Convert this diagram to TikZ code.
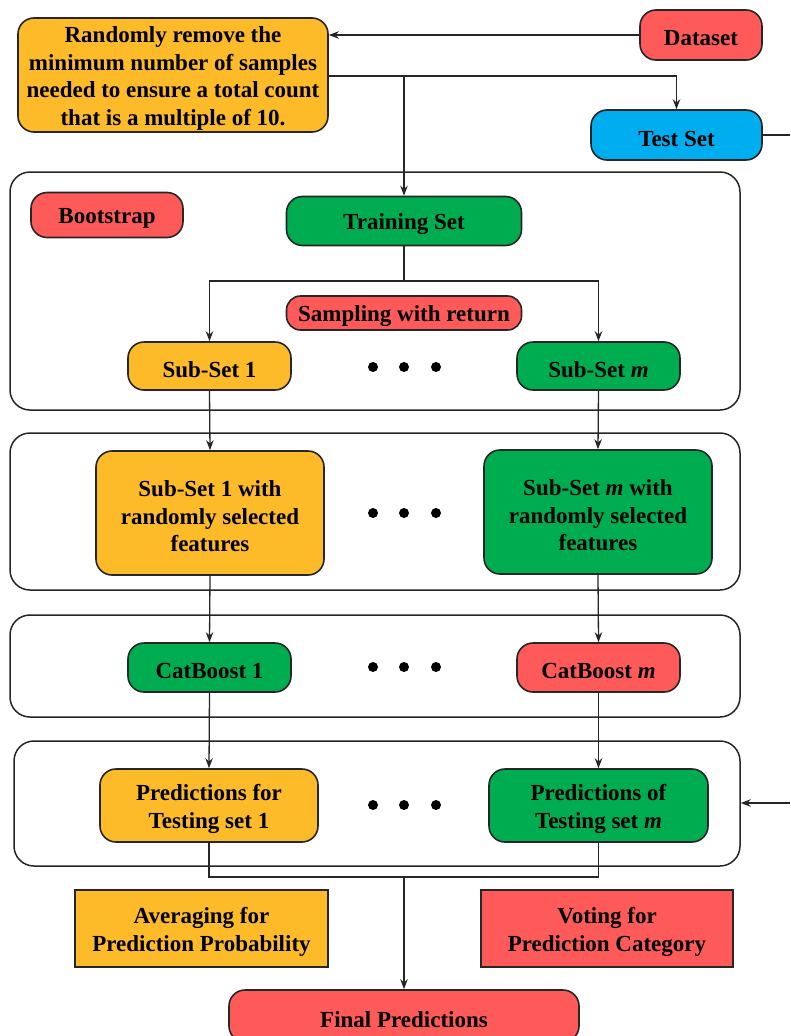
\documentclass[tikz,border=0pt]{standalone}
\usepackage{fontspec}
\setmainfont{Liberation Serif}
\usetikzlibrary{arrows.meta}
\definecolor{corange}{HTML}{FDBB2A}
\definecolor{cred}{HTML}{FF5A5A}
\definecolor{cgreen}{HTML}{00AC50}
\definecolor{cblue}{HTML}{00AEEF}
\tikzset{
  txt/.style={font=\bfseries\fontsize{23}{27.5}\selectfont, align=center, inner sep=0pt},
  lbl/.style={label={[txt, yshift=-3.5pt]center:{#1}}},
  rbox/.style={draw=black!85, line width=1.6pt, rounded corners=16pt, inner sep=0pt, minimum width=#1},
  sbox/.style={draw=black!85, line width=1.6pt, inner sep=0pt, minimum width=#1},
  outer/.style={draw=black!85, line width=1.5pt, rounded corners=20pt, inner sep=0pt},
  conn/.style={line width=1.3pt, draw=black!85},
  arr/.style={conn, -{Stealth[length=10pt,width=7.5pt]}},
  dot/.style={circle, fill=black, inner sep=0pt, minimum size=10pt}
}
\begin{document}
\begin{tikzpicture}[x=1pt,y=-1pt]
\useasboundingbox (0,0) rectangle (790,1036);
\clip (0,0) rectangle (790,1036);
% outer containers
\node[outer, minimum width=730pt, minimum height=238pt] (box1) at (375,291) {};
\node[outer, minimum width=730pt, minimum height=157pt] (box2) at (375,511.5) {};
\node[outer, minimum width=730pt, minimum height=102pt] (box3) at (375,666) {};
\node[outer, minimum width=726pt, minimum height=125pt] (box4) at (377,803.5) {};
% top
\node[rbox=310pt, minimum height=114pt, fill=corange, lbl={Randomly remove the\\minimum number of samples\\needed to ensure a total count\\that is a multiple of 10.}] (top) at (173,75) {};
\node[rbox=122pt, minimum height=50pt, fill=cred, lbl={Dataset}] (dataset) at (701,35) {};
\node[rbox=171pt, minimum height=50pt, fill=cblue, lbl={Test Set}] (test) at (676.5,135) {};
% bootstrap
\node[rbox=152pt, minimum height=45pt, fill=cred, lbl={Bootstrap}] (boot) at (107,215) {};
\node[rbox=235pt, minimum height=49pt, fill=cgreen, lbl={Training Set}] (train) at (404,221) {};
\node[rbox=235pt, minimum height=34pt, fill=cred, rounded corners=14pt, lbl={Sampling with return}] (samp) at (404,313) {};
\node[rbox=163pt, minimum height=48pt, fill=corange, lbl={Sub-Set 1}] (sub1) at (209.5,366) {};
\node[rbox=163pt, minimum height=48pt, fill=cgreen, lbl={Sub-Set \textit{m}}] (subm) at (598.5,366) {};
\node[dot] (d1a) at (373,367) {};
\node[dot] (d1b) at (404,367) {};
\node[dot] (d1c) at (436,367) {};
% features
\node[rbox=228pt, minimum height=124pt, fill=corange, lbl={Sub-Set 1 with\\randomly selected\\features}] (f1) at (210,513) {};
\node[rbox=228pt, minimum height=124pt, fill=cgreen, lbl={Sub-Set \textit{m} with\\randomly selected\\features}] (fm) at (598,512) {};
\node[dot] (d2a) at (373,513) {};
\node[dot] (d2b) at (404,513) {};
\node[dot] (d2c) at (436,513) {};
% catboost
\node[rbox=163pt, minimum height=49pt, fill=cgreen, lbl={CatBoost 1}] (c1) at (209.5,667.5) {};
\node[rbox=163pt, minimum height=49pt, fill=cred, lbl={CatBoost \textit{m}}] (cm) at (598.5,667.5) {};
\node[dot] (d3a) at (373,667) {};
\node[dot] (d3b) at (404,667) {};
\node[dot] (d3c) at (436,667) {};
% predictions
\node[rbox=218pt, minimum height=73pt, fill=corange, lbl={Predictions for\\Testing set 1}] (p1) at (209,805.5) {};
\node[rbox=219pt, minimum height=73pt, fill=cgreen, lbl={Predictions of\\Testing set \textit{m}}] (pm) at (598.5,805.5) {};
\node[dot] (d4a) at (373,805) {};
\node[dot] (d4b) at (404,805) {};
\node[dot] (d4c) at (436,805) {};
% bottom
\node[sbox=253pt, minimum height=77pt, fill=corange, lbl={Averaging for\\Prediction Probability}] (avg) at (201.5,928.5) {};
\node[sbox=252pt, minimum height=77pt, fill=cred, lbl={Voting for\\Prediction Category}] (vote) at (607,928.5) {};
\node[rbox=350pt, minimum height=52pt, fill=cred, lbl={Final Predictions}] (final) at (404,1016) {};
% connectors
\coordinate (j1) at (404,76);
\coordinate (j2) at (404,281);
\coordinate (j3) at (404,877);
\coordinate (redge1) at (790,135);
\coordinate (redge2) at (790,803);
\draw[arr] (dataset.west) -- (dataset.west -| top.east);
\draw[arr] (top.east |- j1) -| (test.north);
\draw[arr] (j1) -- (train.north);
\draw[conn] (test.east) -- (redge1);
\draw[conn] (train.south) -- (j2);
\draw[arr] (j2) -| (sub1.north);
\draw[arr] (j2) -| (subm.north);
\draw[arr] (sub1.south) -- (f1.north);
\draw[arr] (subm.south) -- (fm.north);
\draw[arr] (f1.south) -- (c1.north);
\draw[arr] (fm.south) -- (cm.north);
\draw[arr] (c1.south) -- (p1.north);
\draw[arr] (cm.south) -- (pm.north);
\draw[arr] (redge2) -- (redge2 -| box4.east);
\draw[conn] (p1.south) |- (j3);
\draw[conn] (pm.south) |- (j3);
\draw[arr] (j3) -- (final.north);
\end{tikzpicture}
\end{document}
